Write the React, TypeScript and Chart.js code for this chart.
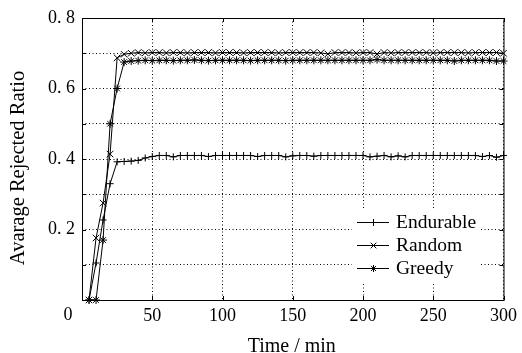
import React, { useEffect, useRef } from 'react';
import { Chart, registerables } from 'chart.js';

Chart.register(...registerables);

const times = [5, 10, 15, 20, 25, 30, 35, 40, 45, 50, 55, 60, 65, 70, 75, 80, 85, 90, 95, 100,
  105, 110, 115, 120, 125, 130, 135, 140, 145, 150, 155, 160, 165, 170, 175, 180, 185, 190, 195, 200,
  205, 210, 215, 220, 225, 230, 235, 240, 245, 250, 255, 260, 265, 270, 275, 280, 285, 290, 295, 300];

const endurable = [0, 0.105, 0.227, 0.33, 0.392, 0.393, 0.394, 0.396, 0.403, 0.407,
  0.41, 0.41, 0.406, 0.41, 0.41, 0.41, 0.41, 0.407, 0.41, 0.41,
  0.41, 0.41, 0.41, 0.41, 0.407, 0.41, 0.41, 0.41, 0.406, 0.409,
  0.41, 0.41, 0.408, 0.41, 0.41, 0.41, 0.41, 0.41, 0.41, 0.41,
  0.406, 0.408, 0.41, 0.406, 0.409, 0.406, 0.41, 0.41, 0.41, 0.41,
  0.41, 0.41, 0.41, 0.41, 0.41, 0.41, 0.407, 0.41, 0.405, 0.41];

const randomSeries = [0, 0.176, 0.275, 0.414, 0.687, 0.697, 0.7, 0.702, 0.701, 0.702,
  0.702, 0.701, 0.702, 0.702, 0.701, 0.702, 0.702, 0.702, 0.701, 0.702,
  0.702, 0.702, 0.701, 0.702, 0.702, 0.702, 0.702, 0.701, 0.702, 0.702,
  0.702, 0.702, 0.702, 0.701, 0.698, 0.702, 0.702, 0.702, 0.701, 0.702,
  0.702, 0.698, 0.702, 0.701, 0.702, 0.702, 0.702, 0.702, 0.702, 0.701,
  0.702, 0.702, 0.702, 0.702, 0.701, 0.702, 0.702, 0.702, 0.702, 0.7];

const greedy = [0, 0, 0.17, 0.5, 0.6, 0.675, 0.678, 0.679, 0.68, 0.679,
  0.68, 0.68, 0.679, 0.68, 0.68, 0.681, 0.68, 0.679, 0.68, 0.68,
  0.68, 0.68, 0.68, 0.679, 0.68, 0.68, 0.68, 0.68, 0.679, 0.68,
  0.68, 0.68, 0.68, 0.68, 0.68, 0.68, 0.68, 0.68, 0.68, 0.68,
  0.68, 0.682, 0.68, 0.68, 0.68, 0.68, 0.68, 0.68, 0.68, 0.68,
  0.68, 0.68, 0.678, 0.68, 0.68, 0.68, 0.68, 0.68, 0.678, 0.678];

const seriesNames = ['Endurable', 'Random', 'Greedy'];
const seriesValues = [endurable, randomSeries, greedy];
const markerStyles = ['cross', 'crossRot', 'star'];
const markerRadii = [3.5, 4.6, 4];
const xTickValues = [0, 50, 100, 150, 200, 250, 300];
const xAxisTitle = 'Time / min';
const yAxisTitle = 'Avarage Rejected Ratio';
const cornerLabel = '0';

const FONT = "'Liberation Serif', 'Times New Roman', serif";
const TICK_FS = 18;
const TITLE_FS = 20;
const LEGEND_FS = 19.5;

function drawMarker(ctx: CanvasRenderingContext2D, style: string, x: number, y: number, r: number) {
  ctx.beginPath();
  const d = r * Math.SQRT1_2;
  if (style === 'cross' || style === 'star') {
    ctx.moveTo(x - r, y); ctx.lineTo(x + r, y);
    ctx.moveTo(x, y - r); ctx.lineTo(x, y + r);
  }
  if (style === 'crossRot' || style === 'star') {
    ctx.moveTo(x - d, y - d); ctx.lineTo(x + d, y + d);
    ctx.moveTo(x - d, y + d); ctx.lineTo(x + d, y - d);
  }
  ctx.stroke();
}

const overlay = {
  id: 'overlay',
  afterDraw(chart: any) {
    const { ctx, chartArea } = chart;
    const { left, right, top, bottom } = chartArea;
    const xs = chart.scales.x;
    const ys = chart.scales.y;
    ctx.save();
    ctx.strokeStyle = '#000';
    ctx.lineWidth = 1;
    ctx.setLineDash([]);
    // inward ticks
    ctx.beginPath();
    xTickValues.forEach((v) => {
      const px = Math.round(xs.getPixelForValue(v)) + 0.5;
      ctx.moveTo(px, bottom); ctx.lineTo(px, bottom - 4);
      ctx.moveTo(px, top); ctx.lineTo(px, top + 4);
    });
    ys.ticks.forEach((t: any) => {
      const py = Math.round(ys.getPixelForValue(t.value)) + 0.5;
      ctx.moveTo(left, py); ctx.lineTo(left + 4, py);
      ctx.moveTo(right, py); ctx.lineTo(right - 4, py);
    });
    ctx.stroke();
    // frame
    ctx.strokeRect(left + 0.5, top + 0.5, right - left, bottom - top);

    ctx.fillStyle = '#000';
    // corner label
    ctx.font = `${TICK_FS}px ${FONT}`;
    ctx.textAlign = 'center';
    ctx.textBaseline = 'middle';
    ctx.fillText(cornerLabel, 68, 315);

    // axis titles
    ctx.font = `${TITLE_FS}px ${FONT}`;
    ctx.fillText(xAxisTitle, (left + right) / 2 - 1, 347);
    ctx.save();
    ctx.translate(19, 168);
    ctx.rotate(-Math.PI / 2);
    ctx.font = `${TITLE_FS + 0.5}px ${FONT}`;
    ctx.fillText(yAxisTitle, 0, 0);
    ctx.restore();

    // legend
    const lx = 352, ly = 210, lw = 128, lh = 73;
    ctx.fillStyle = '#fff';
    ctx.fillRect(lx, ly, lw, lh);
    ctx.fillStyle = '#000';
    ctx.textAlign = 'left';
    ctx.font = `${LEGEND_FS}px ${FONT}`;
    seriesNames.forEach((name, i) => {
      const y = 222 + i * 23;
      ctx.beginPath();
      ctx.moveTo(357, y + 0.5); ctx.lineTo(389, y + 0.5);
      ctx.stroke();
      drawMarker(ctx, markerStyles[i], 373.5, y + 0.5, i === 1 ? 4 : 3.5);
      ctx.fillText(name, 396, y + 1);
    });
    ctx.restore();
  },
};

export default function App() {
  const ref = useRef<HTMLCanvasElement>(null);
  useEffect(() => {
    const datasets = seriesNames.map((name, i) => ({
      label: name,
      data: times.map((t, j) => ({ x: t, y: seriesValues[i][j] })),
      borderColor: '#000',
      borderWidth: 1,
      pointStyle: markerStyles[i],
      pointRadius: markerRadii[i],
      pointBorderWidth: 1,
      pointBorderColor: '#000',
      pointBackgroundColor: 'rgba(0,0,0,0)',
      tension: 0,
      clip: false,
      fill: false,
    }));
    const chart = new Chart(ref.current as HTMLCanvasElement, {
      type: 'line',
      data: { datasets } as any,
      options: {
        responsive: false,
        maintainAspectRatio: false,
        devicePixelRatio: 1,
        animation: false,
        layout: { padding: { top: 18, right: 14, left: 0, bottom: 0 } },
        plugins: { legend: { display: false }, tooltip: { enabled: false } },
        scales: {
          x: {
            type: 'linear',
            min: 0,
            max: 300,
            afterBuildTicks: (s: any) => { s.ticks = xTickValues.map((v) => ({ value: v })); },
            afterFit: (s: any) => { s.height = 53; },
            ticks: {
              callback: (v: any) => (v === 0 ? '' : String(v)),
              font: { family: FONT, size: TICK_FS },
              color: '#000',
              padding: 5,
              maxRotation: 0,
              autoSkip: false,
            },
            grid: { color: '#000', lineWidth: 1, drawTicks: false },
            border: { display: false, dash: [1, 2.5] },
            title: { display: false, text: xAxisTitle },
          },
          y: {
            type: 'linear',
            min: 0,
            max: 0.8,
            afterFit: (s: any) => { s.width = 82; },
            ticks: {
              stepSize: 0.1,
              callback: (v: any) => {
                const r = Math.round(Number(v) * 10);
                if (r === 0 || r % 2 !== 0) return '';
                return '0. ' + r;
              },
              font: { family: FONT, size: TICK_FS },
              color: '#000',
              padding: 7,
              autoSkip: false,
            },
            grid: { color: '#000', lineWidth: 1, drawTicks: false },
            border: { display: false, dash: [1, 2.5] },
            title: { display: false, text: yAxisTitle },
          },
        },
      } as any,
      plugins: [overlay],
    });
    return () => chart.destroy();
  }, []);
  return (
    <div style={{ position: 'fixed', left: 0, top: 0, width: 522, height: 353, background: '#fff' }}>
      <canvas ref={ref} width={522} height={353} style={{ display: 'block', width: 522, height: 353 }} />
    </div>
  );
}
